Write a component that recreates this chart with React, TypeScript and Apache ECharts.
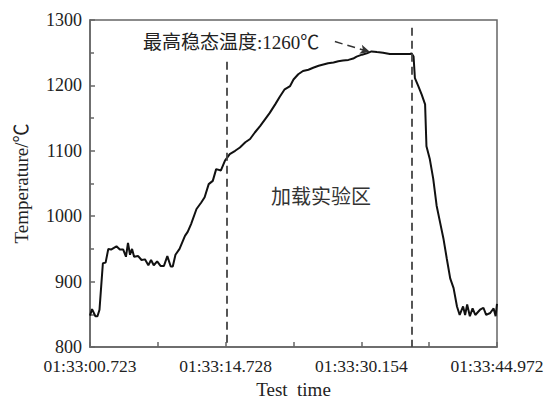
import React, { useEffect, useRef } from "react";
import * as echarts from "echarts";

const timePos = [
  0, 0.03, 0.08, 0.11, 0.14, 0.17, 0.19, 0.23, 0.27, 0.31,
  0.39, 0.44, 0.49, 0.53, 0.56, 0.59, 0.62, 0.65, 0.71, 0.76,
  0.81, 0.86, 0.9, 0.94, 0.99, 1.04, 1.09, 1.14, 1.19, 1.22,
  1.26, 1.32, 1.4, 1.44, 1.49, 1.57, 1.64, 1.69, 1.75, 1.81,
  1.86, 1.93, 1.99, 2.06, 2.14, 2.21, 2.29, 2.36, 2.43, 2.51,
  2.58, 2.65, 2.73, 2.8, 2.87, 2.95, 3.0, 3.07, 3.14, 3.22,
  3.29, 3.37, 3.44, 3.51, 3.59, 3.66, 3.73, 3.81, 3.88, 3.93,
  4.01, 4.08, 4.15, 4.23, 4.32, 4.42, 4.5, 4.6, 4.72, 4.74,
  4.77, 4.79, 4.84, 4.89, 4.94, 4.96, 5.01, 5.06, 5.11, 5.16,
  5.21, 5.26, 5.31, 5.36, 5.41, 5.45, 5.5, 5.53, 5.56, 5.6,
  5.64, 5.68, 5.75, 5.8, 5.84, 5.9, 5.95, 5.98, 6.0,
];

const temps = [
  848, 858, 847, 847, 857, 900, 928, 929, 950, 949,
  954, 949, 949, 938, 959, 941, 950, 938, 939, 933,
  934, 925, 933, 925, 931, 924, 924, 939, 923, 923,
  941, 950, 970, 976, 988, 1011, 1021, 1029, 1049, 1054,
  1072, 1070, 1085, 1095, 1100, 1105, 1113, 1118, 1128, 1138,
  1148, 1158, 1171, 1183, 1194, 1199, 1209, 1217, 1222, 1224,
  1227, 1230, 1232, 1234, 1235, 1237, 1238, 1239, 1241, 1244,
  1247, 1249, 1252, 1251, 1250, 1248, 1248, 1248, 1248, 1249,
  1244, 1211, 1199, 1186, 1171, 1107, 1087, 1057, 1016, 991,
  966, 935, 905, 890, 862, 849, 862, 849, 865, 847,
  859, 849, 857, 860, 849, 852, 859, 847, 866,
];

// tick labels at positions 0, 2, 4, 6 of the x axis
const xTickLabels: Record<number, string> = {
  0: "01:33:00.723",
  2: "01:33:14.728",
  4: "01:33:30.154",
  6: "01:33:44.972",
};

// vertical dashed boundaries of the loading zone: [x, top value]
const zoneLines = [
  [2.02, 1236],
  [4.75, 1288],
];

// annotation arrow: from [x,y] to [x,y]
const arrowFrom = [3.61, 1267];
const arrowTo = [4.13, 1251];

const peakLabel = "最高稳态温度:1260℃";
const zoneLabel = "加载实验区";

const SERIF = "'Liberation Serif', 'Times New Roman', 'Noto Sans CJK SC', serif";

export default function App() {
  const ref = useRef<HTMLDivElement>(null);
  useEffect(() => {
    if (!ref.current) return;
    const chart = echarts.init(ref.current, undefined, { renderer: "svg" });
    const data = timePos.map((t, i) => [t, temps[i]]);
    const dashStyle = { color: "#444", width: 1.8, type: [8, 5] as any };
    chart.setOption({
      animation: false,
      backgroundColor: "#fff",
      grid: {
        left: 90,
        right: 53,
        top: 20,
        bottom: 55,
        show: true,
        borderColor: "#666",
        borderWidth: 1.5,
        backgroundColor: "transparent",
      },
      xAxis: {
        type: "value",
        min: 0,
        max: 6,
        interval: 1,
        name: "Test  time",
        nameLocation: "middle",
        nameGap: 33,
        nameTextStyle: { fontFamily: SERIF, fontSize: 19, color: "#222" },
        axisLine: { show: true, lineStyle: { color: "#666", width: 1.5 } },
        axisTick: { show: true, inside: true, length: 5, lineStyle: { color: "#666", width: 1.5 } },
        splitLine: { show: false },
        axisLabel: {
          fontFamily: SERIF,
          fontSize: 17.5,
          lineHeight: 16,
          color: "#222",
          margin: 11,
          showMinLabel: true,
          showMaxLabel: true,
          formatter: (v: number) => xTickLabels[Math.round(v)] ?? "",
        },
      },
      yAxis: {
        type: "value",
        min: 800,
        max: 1300,
        interval: 100,
        name: "Temperature/℃",
        nameLocation: "middle",
        nameGap: 59,
        nameTextStyle: { fontFamily: SERIF, fontSize: 19, color: "#222" },
        axisLine: { show: true, lineStyle: { color: "#666", width: 1.5 } },
        axisTick: { show: true, inside: true, length: 5, lineStyle: { color: "#666", width: 1.5 } },
        minorTick: { show: true, splitNumber: 2, length: 4, lineStyle: { color: "#666", width: 1.5 } },
        splitLine: { show: false },
        axisLabel: {
          fontFamily: SERIF,
          fontSize: 18,
          lineHeight: 16,
          color: "#222",
          margin: 8,
          formatter: (v: number) => String(v),
        },
      },
      series: [
        {
          type: "line",
          data,
          showSymbol: false,
          symbol: "none",
          lineStyle: { color: "#111", width: 2 },
          z: 3,
          markLine: {
            silent: true,
            animation: false,
            label: { show: false },
            data: [
              ...zoneLines.map((l) => [
                { coord: [l[0], l[1]], symbol: "none", lineStyle: dashStyle },
                { coord: [l[0], 800], symbol: "none" },
              ]),
              [
                { coord: arrowFrom, symbol: "none", lineStyle: { color: "#333", width: 1.5, type: [8, 5] } },
                { coord: arrowTo, symbol: "arrow", symbolSize: [7, 10] },
              ],
            ],
          },
        },
      ],
      graphic: [
        {
          type: "text",
          x: 143,
          y: 42,
          style: {
            text: peakLabel,
            font: `19px ${SERIF}`,
            fill: "#222",
            verticalAlign: "middle",
            align: "left",
          },
        },
        {
          type: "text",
          x: 321,
          y: 197,
          style: {
            text: zoneLabel,
            font: `20px ${SERIF}`,
            fill: "#333",
            verticalAlign: "middle",
            align: "center",
          },
        },
      ],
    });
    return () => chart.dispose();
  }, []);
  return (
    <div
      ref={ref}
      style={{ position: "fixed", left: 0, top: 0, width: 550, height: 404, background: "#fff" }}
    />
  );
}
